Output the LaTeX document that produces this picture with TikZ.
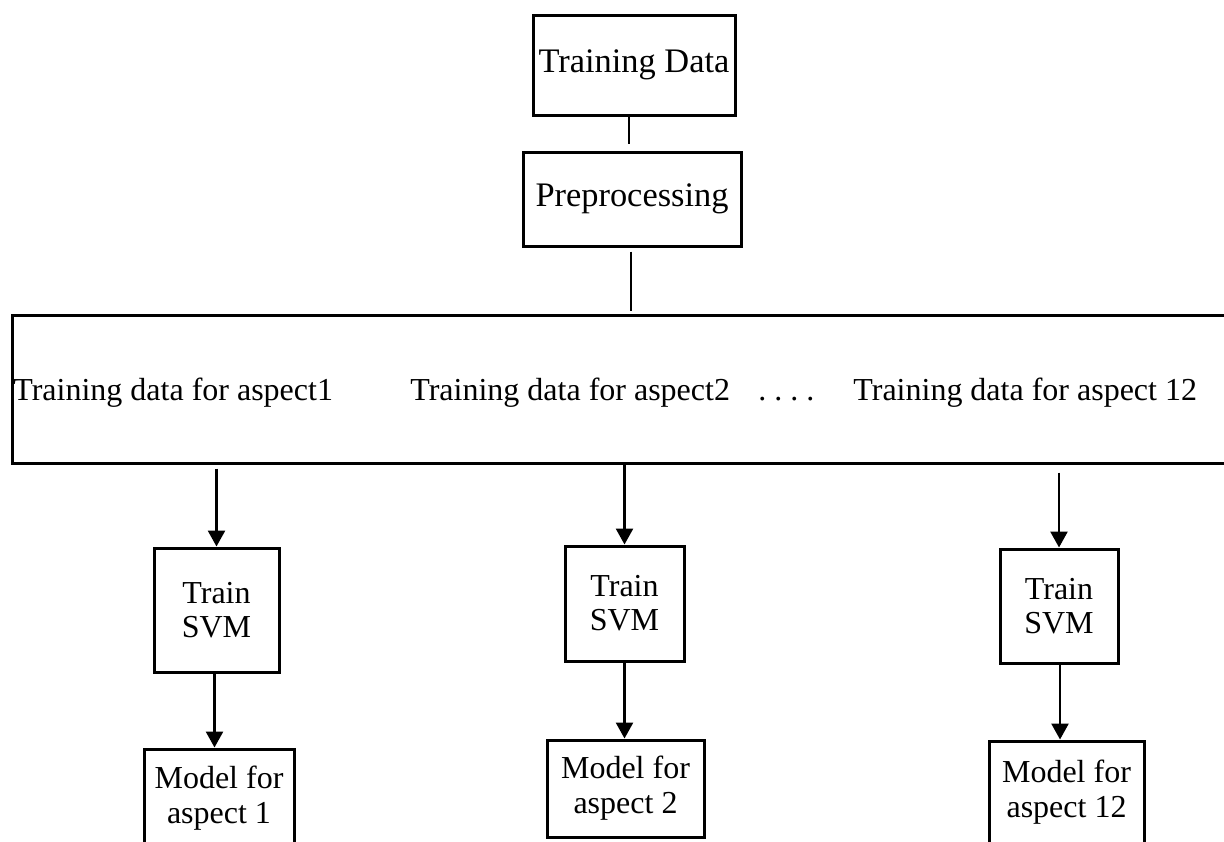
\documentclass[tikz,border=0pt]{standalone}
\usepackage{fontspec}
\setmainfont{Liberation Serif}
\usetikzlibrary{arrows.meta}
\begin{document}
\begin{tikzpicture}[x=0.5pt,y=-0.5pt,
  box/.style={draw,line width=1.5pt,inner sep=0pt,align=center,font=\fontsize{16}{17}\selectfont},
  topbox/.style={box,font=\fontsize{17.2}{18}\selectfont},
  lbl/.style={inner sep=0pt,anchor=base west,font=\fontsize{16}{18}\selectfont},
  link/.style={line width=0.65pt},
  arr/.style={line width=1.3pt,-{Triangle[length=8pt,width=8.5pt]}}]
\useasboundingbox (0,0) rectangle (1224,841);
\node[topbox,minimum width=101pt,minimum height=50pt] (td) at (634,65) {Training Data};
\node[topbox,minimum width=109pt,minimum height=47pt] (pre) at (632,199) {Preprocessing};
\node[box,minimum width=614pt,minimum height=74pt] (big) at (626,389) {};
\node[lbl] (a1) at (13,400) {Training data for aspect1};
\node[lbl] (a2) at (410,400) {Training data for aspect2};
\node[lbl] (dots) at (758,400) {.\ .\ .\ .};
\node[lbl] (a3) at (853,400) {Training data for aspect 12};
% train boxes
\node[box,minimum width=62.5pt,minimum height=62pt] (t1) at (216.5,610) {Train\\SVM};
\node[box,minimum width=59.5pt,minimum height=57.5pt] (t2) at (624.5,603.5) {Train\\SVM};
\node[box,minimum width=59pt,minimum height=57pt] (t3) at (1059,606) {Train\\SVM};
% model boxes
\node[box,minimum width=75pt,minimum height=49pt,font=\fontsize{16}{17.5}\selectfont] (m1) at (219,798) {Model for\\aspect 1};
\node[box,minimum width=78.5pt,minimum height=48.5pt,font=\fontsize{16}{17.5}\selectfont] (m2) at (625.5,788.5) {Model for\\aspect 2};
\node[box,minimum width=77.5pt,minimum height=51pt,font=\fontsize{16}{17.5}\selectfont] (m3) at (1066.5,792) {Model for\\aspect 12};
% connectors
\draw[link,shorten >=3.5pt] ([xshift=-2.5pt]td.south) -- ([xshift=-2.5pt]td.south |- pre.north);
\draw[link,shorten <=2pt,shorten >=1.5pt] ([xshift=-0.5pt]pre.south) -- ([xshift=-0.5pt]pre.south |- big.north);
\draw[arr,shorten <=2pt] (t1.north |- big.south) -- (t1.north);
\draw[arr] (t2.north |- big.south) -- (t2.north);
\draw[arr,shorten <=4pt] (t3.north |- big.south) -- (t3.north);
\draw[arr] ([xshift=-1pt]t1.south) -- ([xshift=-1pt]t1.south |- m1.north);
\draw[arr] (t2.south) -- (t2.south |- m2.north);
\draw[arr] ([xshift=0.5pt]t3.south) -- ([xshift=0.5pt]t3.south |- m3.north);
\end{tikzpicture}
\end{document}
